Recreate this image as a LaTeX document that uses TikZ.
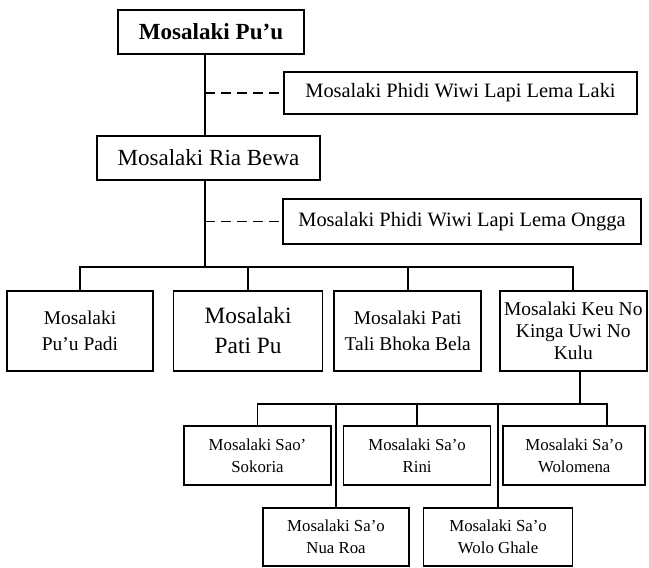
\documentclass[tikz,border=0pt]{standalone}
\usepackage{fontspec}
\setmainfont{Liberation Serif}
\usetikzlibrary{positioning}

\begin{document}
\begin{tikzpicture}[x=0.75pt,y=-0.75pt,
box/.style={draw,rectangle,line width=1.2pt,inner sep=0pt,align=center},
big/.style={font=\fontsize{17.3}{22}\selectfont},
mid/.style={font=\fontsize{15.3}{18}\selectfont},
small/.style={font=\fontsize{14.6}{19.5}\selectfont},
tiny/.style={font=\fontsize{12.6}{16.2}\selectfont},
link/.style={line width=1.3pt},
dashlink/.style={line width=1.3pt,dash pattern=on 7.5pt off 4.5pt}]
\useasboundingbox (0,0) rectangle (649,567);
% upper levels
\node (puu) [box,big,minimum width=139.5pt,minimum height=33pt] at (211,32) {\textbf{Mosalaki Pu'u}};
\node (laki) [box,mid,minimum width=264.75pt,minimum height=31.5pt] at (460.5,93) {Mosalaki Phidi Wiwi Lapi Lema Laki};
\node (ria) [box,big,minimum width=167.25pt,minimum height=33pt] at (208.5,158) {Mosalaki Ria Bewa};
\node (ongga) [box,mid,minimum width=268.5pt,minimum height=33.75pt] at (462,221.5) {Mosalaki Phidi Wiwi Lapi Lema Ongga};
% second row
\node (padi) [box,small,minimum width=109.5pt,minimum height=60pt] at (80,331) {Mosalaki\\Pu'u Padi};
\node (patipu) [box,big,font=\fontsize{17.5}{22.5}\selectfont,minimum width=111.75pt,minimum height=60pt,right=14.25pt of padi] {Mosalaki\\Pati Pu};
\node (bhoka) [box,small,minimum width=110.25pt,minimum height=60pt,right=7.5pt of patipu] {Mosalaki Pati\\Tali Bhoka Bela};
\node (kulu) [box,small,font=\fontsize{14.6}{16.5}\selectfont,minimum width=110.25pt,minimum height=60pt,right=12.75pt of bhoka] {Mosalaki Keu No\\Kinga Uwi No\\Kulu};
% Sa'o row
\node (sokoria) [box,tiny,minimum width=110.25pt,minimum height=44.25pt] at (257.5,455.5) {Mosalaki Sao'\\Sokoria};
\node (rini) [box,tiny,minimum width=110.25pt,minimum height=44.25pt,right=8.25pt of sokoria] {Mosalaki Sa'o\\Rini};
\node (wolomena) [box,tiny,minimum width=106.5pt,minimum height=44.25pt,right=8.25pt of rini] {Mosalaki Sa'o\\Wolomena};
\node (nuaroa) [box,tiny,minimum width=109.5pt,minimum height=43.5pt] at (336,537) {Mosalaki Sa'o\\Nua Roa};
\node (ghale) [box,tiny,minimum width=111.75pt,minimum height=43.5pt,right=9.75pt of nuaroa] {Mosalaki Sa'o\\Wolo Ghale};

\coordinate (trunk) at (205,0);
\coordinate (bus) at (0,267);
\coordinate (subbus) at (580,404);
\coordinate (wdrop) at (607,404);

\draw[link] (trunk |- puu.south) -- (trunk |- ria.north);
\draw[dashlink] (trunk |- laki.west) -- (laki.west);
\draw[link] (trunk |- ria.south) -- (trunk |- bus);
\draw[dashlink] (trunk |- ongga.west) -- (ongga.west);
\draw[link] (padi.north) -- (padi.north |- bus) -- (kulu.north |- bus) -- (kulu.north);
\draw[link] (patipu.north) -- (patipu.north |- bus);
\draw[link] (bhoka.north) -- (bhoka.north |- bus);

\draw[link] (kulu.south -| subbus) -- (subbus);
\draw[link] (sokoria.north) -- (sokoria.north |- subbus) -- (wdrop) -- (wdrop |- wolomena.north);
\draw[link] (rini.north) -- (rini.north |- subbus);
\draw[link] (nuaroa.north) -- (nuaroa.north |- subbus);
\draw[link] (ghale.north) -- (ghale.north |- subbus);
\end{tikzpicture}
\end{document}
